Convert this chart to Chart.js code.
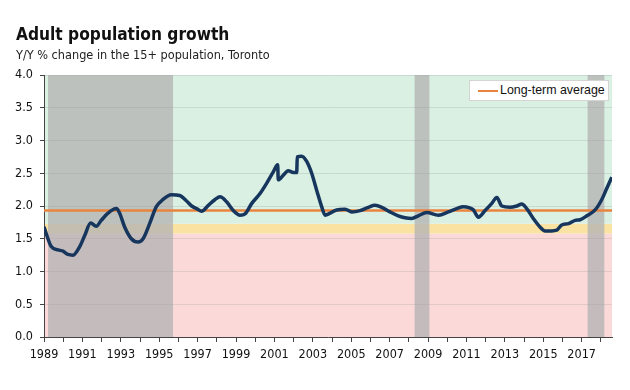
<!DOCTYPE html>
<html>
<head>
<meta charset="utf-8">
<script src="https://cdn.jsdelivr.net/npm/chart.js@4"></script>
<style>
  html, body { margin: 0; padding: 0; background: #fff; }
  #wrap { position: relative; width: 630px; height: 390px; }
  #title { position: absolute; left: 16px; top: 24px; font: bold 17.2px "DejaVu Sans Condensed", "DejaVu Sans", sans-serif; color: #111; white-space: nowrap; }
  #subtitle { position: absolute; left: 16px; top: 47px; font: 12.6px "DejaVu Sans Condensed", "DejaVu Sans", sans-serif; color: #222; white-space: nowrap; }
  #legend { position: absolute; left: 469px; top: 80px; width: 138px; height: 19px; background: #fff; border: 1px solid #d4d4d4; font: 12.4px "Liberation Sans", Arial, sans-serif; color: #111; white-space: nowrap; }
  #legend span.sw { position: absolute; left: 8px; top: 9px; width: 20px; height: 2px; background: #e8843e; }
  #legend span.tx { position: absolute; left: 30px; top: 2px; }
  canvas { position: absolute; left: 0; top: 0; }
</style>
</head>
<body>
<div id="wrap">
  <canvas id="growthChart" width="630" height="390"></canvas>
  <div id="title">Adult population growth</div>
  <div id="subtitle">Y/Y % change in the 15+ population, Toronto</div>
  <div id="legend"><span class="sw"></span><span class="tx">Long-term average</span></div>
</div>
<script>
// Y/Y % change (decimal year, value)
const dates = [
  1989.00, 1989.38, 1989.73, 1989.99, 1990.25, 1990.51, 1990.86, 1991.12, 1991.43, 1991.72,
  1991.98, 1992.33, 1992.77, 1992.94, 1993.20, 1993.55, 1993.90, 1994.16, 1994.50, 1994.85,
  1995.20, 1995.63, 1996.07, 1996.41, 1996.69, 1996.95, 1997.21, 1997.56, 1997.91, 1998.17,
  1998.52, 1998.86, 1999.21, 1999.47, 1999.82, 2000.25, 2000.60, 2000.94, 2001.17, 2001.20,
  2001.46, 2001.72, 2001.98, 2002.16, 2002.19, 2002.42, 2002.68, 2002.94, 2003.20, 2003.46,
  2003.64, 2003.90, 2004.24, 2004.68, 2005.03, 2005.46, 2005.89, 2006.24, 2006.59, 2007.02,
  2007.45, 2007.80, 2008.15, 2008.49, 2008.93, 2009.54, 2010.06, 2010.49, 2010.84, 2011.36,
  2011.62, 2011.97, 2012.32, 2012.58, 2012.84, 2013.27, 2013.62, 2013.88, 2014.14, 2014.48,
  2014.83, 2015.09, 2015.44, 2015.70, 2015.96, 2016.31, 2016.66, 2016.92, 2017.27, 2017.70,
  2018.05, 2018.31, 2018.57
];
const growth = [
  1.68, 1.38, 1.33, 1.31, 1.26, 1.25, 1.38, 1.55, 1.74, 1.69,
  1.78, 1.89, 1.96, 1.89, 1.68, 1.50, 1.45, 1.50, 1.73, 1.99,
  2.10, 2.17, 2.16, 2.08, 2.00, 1.96, 1.92, 2.01, 2.10, 2.14,
  2.06, 1.93, 1.86, 1.88, 2.04, 2.19, 2.35, 2.52, 2.63, 2.40,
  2.47, 2.54, 2.51, 2.51, 2.75, 2.76, 2.68, 2.50, 2.24, 1.99,
  1.86, 1.89, 1.94, 1.95, 1.91, 1.93, 1.98, 2.01, 1.98, 1.91,
  1.85, 1.82, 1.81, 1.85, 1.90, 1.86, 1.91, 1.96, 1.99, 1.94,
  1.83, 1.93, 2.04, 2.13, 2.00, 1.98, 2.00, 2.03, 1.96, 1.81,
  1.68, 1.62, 1.62, 1.63, 1.71, 1.73, 1.78, 1.79, 1.85, 1.94,
  2.10, 2.27, 2.44
];
const longTermAvg = 1.93;

// shaded recession periods
const recessionStart = [1989.21, 2008.30, 2017.31];
const recessionEnd   = [1995.72, 2009.07, 2018.18];

// background zones: red below, yellow middle, green above
const zoneEdges = [0, 1.58, 1.73, 4.0];

const xMin = 1989, xMax = 2018.58;

const zonesPlugin = {
  id: 'zones',
  beforeDraw(chart) {
    const { ctx, chartArea: a, scales: { x, y } } = chart;
    const zoneColors = ['#fcd9d9', '#fae3a2', '#d9f0e3'];
    ctx.save();
    for (let i = 0; i < zoneColors.length; i++) {
      const top = y.getPixelForValue(zoneEdges[i + 1]);
      const bot = y.getPixelForValue(zoneEdges[i]);
      ctx.fillStyle = zoneColors[i];
      ctx.fillRect(a.left, top, a.right - a.left, bot - top);
    }
    ctx.fillStyle = 'rgba(180,180,180,0.78)';
    recessionStart.forEach((s, i) => {
      const l = x.getPixelForValue(s);
      const r = x.getPixelForValue(recessionEnd[i]);
      ctx.fillRect(l, a.top, r - l, a.bottom - a.top);
    });
    ctx.restore();
  }
};

const tickFont = { family: '"DejaVu Sans Condensed", "DejaVu Sans", sans-serif', size: 12.5 };

new Chart(document.getElementById('growthChart'), {
  type: 'line',
  data: {
    datasets: [
      {
        label: 'Long-term average',
        data: [{ x: xMin, y: longTermAvg }, { x: xMax, y: longTermAvg }],
        borderColor: '#e8843e',
        borderWidth: 2.5,
        pointRadius: 0,
        order: 2
      },
      {
        label: 'Adult population growth',
        data: dates.map((d, i) => ({ x: d, y: growth[i] })),
        borderColor: '#17365d',
        borderWidth: 3.5,
        pointRadius: 0,
        cubicInterpolationMode: 'monotone',
        order: 1
      }
    ]
  },
  options: {
    responsive: false,
    animation: false,
    layout: { padding: { top: 75, right: 18, bottom: 0, left: 0 } },
    plugins: {
      legend: { display: false },
      tooltip: { enabled: false }
    },
    scales: {
      x: {
        type: 'linear',
        min: xMin,
        max: xMax,
        afterFit(scale) { scale.height = 53; },
        border: { color: '#444', width: 1 },
        grid: { drawOnChartArea: false, drawTicks: true, tickLength: 5, color: '#444' },
        ticks: {
          stepSize: 1,
          includeBounds: false,
          autoSkip: false,
          maxRotation: 0,
          padding: 5,
          color: '#111',
          font: tickFont,
          callback: v => (v % 2 === 1 ? String(v) : '')
        }
      },
      y: {
        min: 0,
        max: 4,
        afterFit(scale) { scale.width = 44; },
        border: { color: '#444', width: 1 },
        grid: { color: 'rgba(150,150,150,0.25)', tickColor: '#444', tickLength: 4 },
        ticks: {
          stepSize: 0.5,
          padding: 7,
          color: '#111',
          font: tickFont,
          callback: v => v.toFixed(1)
        }
      }
    }
  },
  plugins: [zonesPlugin]
});
</script>
</body>
</html>
